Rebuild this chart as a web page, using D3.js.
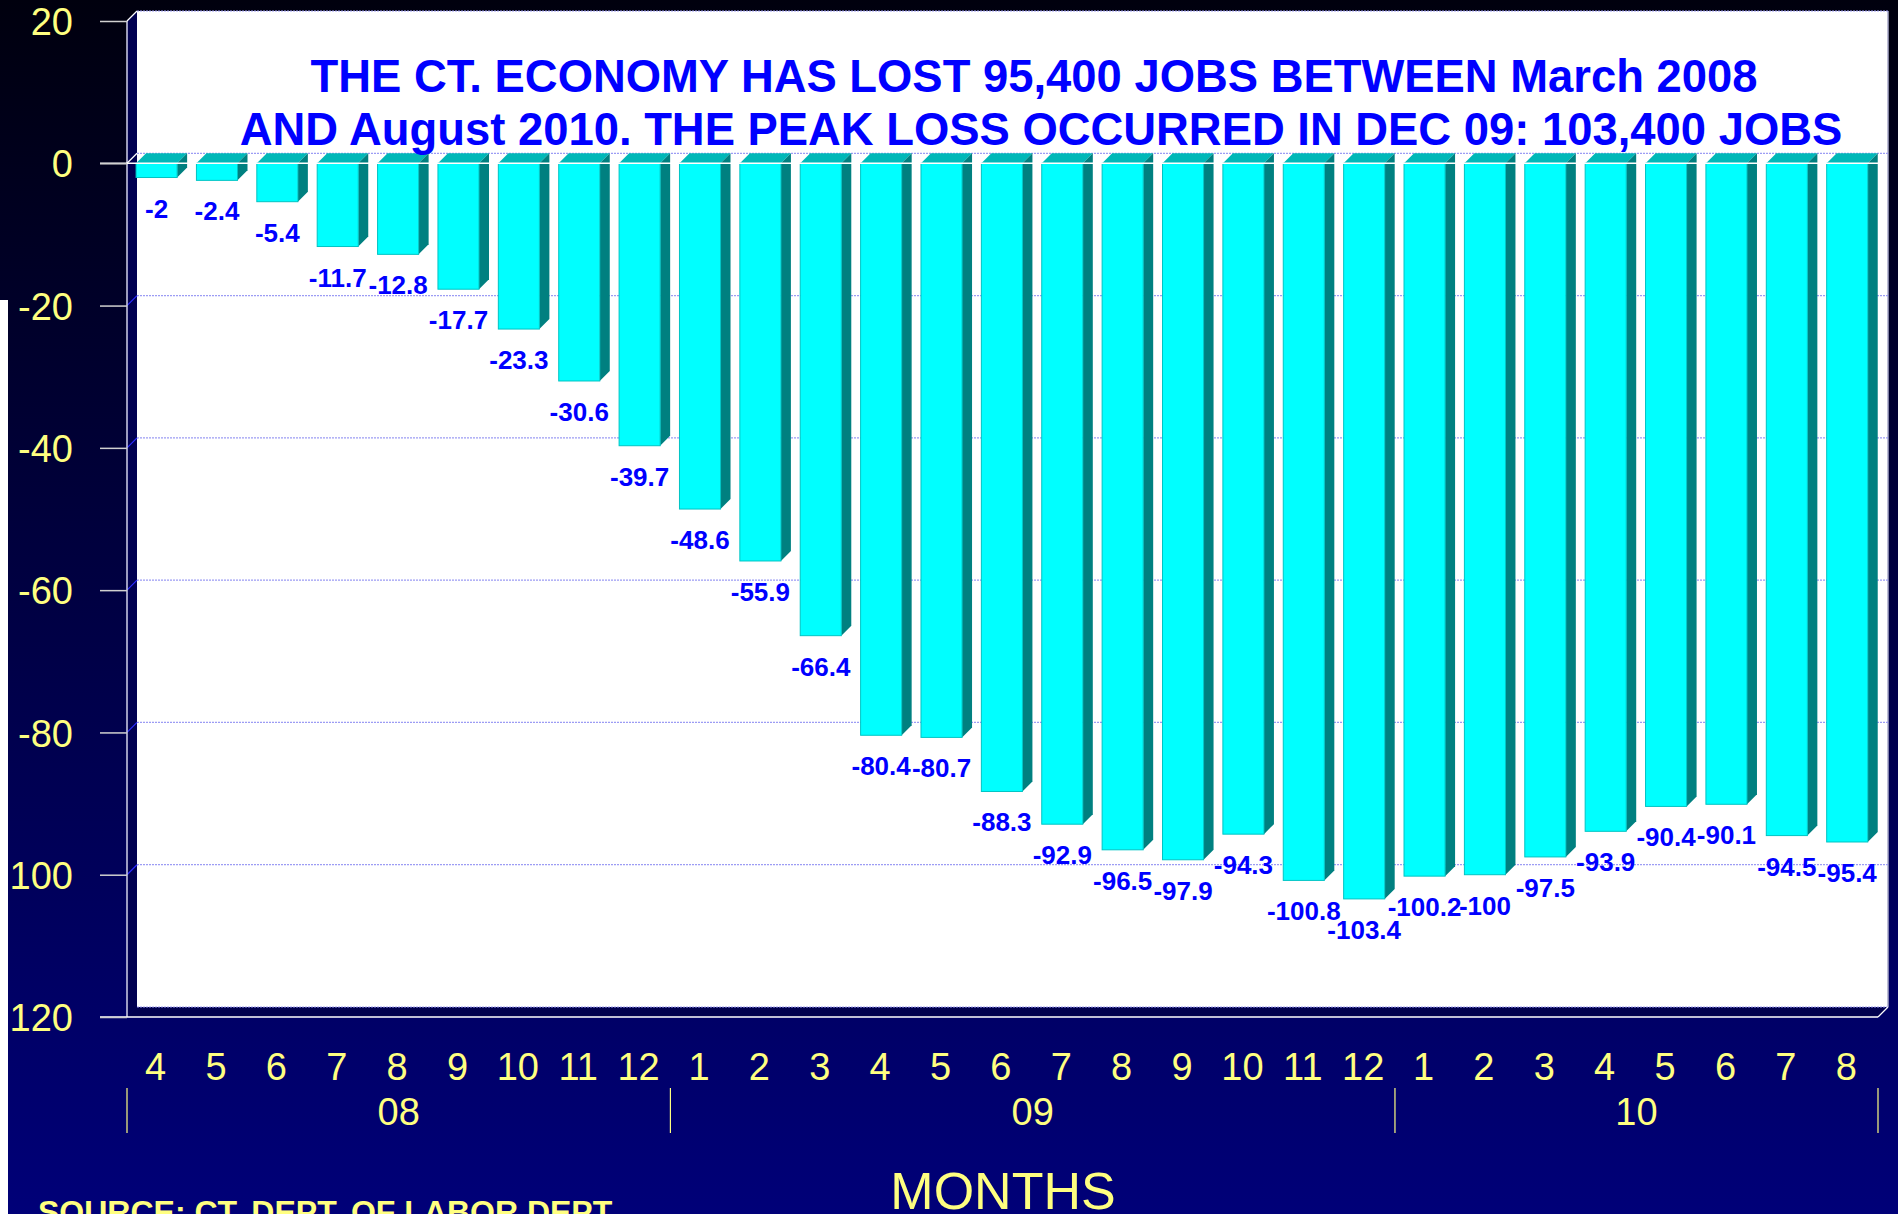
<!DOCTYPE html>
<html>
<head>
<meta charset="utf-8">
<script src="https://cdn.jsdelivr.net/npm/d3@7"></script>
<style>
html,body{margin:0;padding:0;background:#000040;}
svg{display:block;}
</style>
</head>
<body>
<svg id="chart" width="1898" height="1214"></svg>
<script>
// ---------- DATA ----------
const months = ["4","5","6","7","8","9","10","11","12",
                "1","2","3","4","5","6","7","8","9","10","11","12",
                "1","2","3","4","5","6","7","8"];
const years = ["08","09","10"];
const yearCounts = [9, 12, 8];
const jobChange = [-2,-2.4,-5.4,-11.7,-12.8,-17.7,-23.3,-30.6,-39.7,
                   -48.6,-55.9,-66.4,-80.4,-80.7,-88.3,-92.9,-96.5,-97.9,-94.3,-100.8,-103.4,
                   -100.2,-100,-97.5,-93.9,-90.4,-90.1,-94.5,-95.4];
const yTickValues = [20,0,-20,-40,-60,-80,-100,-120];
const yTickLabels = ["20","0","-20","-40","-60","-80","100","120"];
const titleLines = ["THE CT. ECONOMY HAS LOST 95,400 JOBS BETWEEN March 2008",
                    "AND August 2010. THE PEAK LOSS OCCURRED IN DEC 09: 103,400 JOBS"];
const xAxisTitle = "MONTHS";
const sourceText = "SOURCE: CT. DEPT. OF LABOR DEPT.";

// ---------- LAYOUT ----------
const W = 1898, H = 1214;
const svg = d3.select("#chart");
const FONT = "Arial, 'Liberation Sans', sans-serif";
const D = 10; // 3D depth
const x0 = 127, x1 = 1878;
const y = d3.scaleLinear().domain([-120, 20]).range([1017, 21]);
const x = d3.scaleBand().domain(d3.range(jobChange.length)).range([x0, x1]).padding(0);
const step = x.step();
const frontOff = 0.15 * step, frontW = 0.68 * step;

// background gradient
const defs = svg.append("defs");
const lg = defs.append("linearGradient").attr("id","bg").attr("x1",0).attr("y1",0).attr("x2",0).attr("y2",1);
lg.append("stop").attr("offset","0%").attr("stop-color","#00000e");
lg.append("stop").attr("offset","45%").attr("stop-color","#00003e");
lg.append("stop").attr("offset","100%").attr("stop-color","#000078");
svg.append("rect").attr("width",W).attr("height",H).attr("fill","url(#bg)");

// back wall
const wallTop = y(20) - D, wallBot = y(-120) - D;
svg.append("rect").attr("x", x0 + D).attr("y", wallTop)
   .attr("width", x1 + D - (x0 + D)).attr("height", wallBot - wallTop)
   .attr("fill", "#ffffff");
svg.append("line").attr("x1", x1 + D).attr("x2", x1 + D).attr("y1", wallTop).attr("y2", wallBot)
   .attr("stroke", "#a8a8c8").attr("stroke-width", 1.5);

// left side wall
svg.append("polygon")
   .attr("points", [[x0, y(20)], [x0 + D, wallTop], [x0 + D, wallBot], [x0, y(-120)]].join(" "))
   .attr("fill", "#000050");
// floor
svg.append("polygon")
   .attr("points", [[x0, y(-120)], [x1, y(-120)], [x1 + D, wallBot], [x0 + D, wallBot]].join(" "))
   .attr("fill", "#00004e");

// gridlines on back wall + diagonals on left wall
const grid = svg.append("g");
grid.selectAll("line.g").data(yTickValues).join("line")
   .attr("x1", x0 + D).attr("x2", x1 + D)
   .attr("y1", d => y(d) - D).attr("y2", d => y(d) - D)
   .attr("stroke", "#9c9cf4").attr("stroke-width", 1.2).attr("stroke-dasharray", "2,1");
grid.selectAll("line.dg").data(yTickValues.filter(v => v !== 0 && v !== 20 && v !== -120)).join("line")
   .attr("x1", x0).attr("y1", d => y(d)).attr("x2", x0 + D).attr("y2", d => y(d) - D)
   .attr("stroke", "#2a2aff").attr("stroke-width", 1.2);

// bars
const bars = svg.append("g");
jobChange.forEach((v, i) => {
  const bx = x(i) + frontOff, by0 = y(0), by1 = y(v);
  const g = bars.append("g");
  g.append("polygon")
    .attr("points", [[bx, by0], [bx + frontW, by0], [bx + frontW + D, by0 - D], [bx + D, by0 - D]].join(" "))
    .attr("fill", "#00b8b8");
  g.append("polygon")
    .attr("points", [[bx + frontW, by0], [bx + frontW + D, by0 - D], [bx + frontW + D, by1 - D], [bx + frontW, by1]].join(" "))
    .attr("fill", "#008080");
  g.append("rect").attr("x", bx).attr("y", by0).attr("width", frontW).attr("height", by1 - by0)
    .attr("fill", "#00ffff").attr("stroke", "#00c4c4").attr("stroke-width", 1);
});

// axis lines
svg.append("line").attr("x1", x0).attr("x2", x0).attr("y1", y(20)).attr("y2", y(-120))
   .attr("stroke", "#d0d0e8").attr("stroke-width", 1.5);
svg.append("line").attr("x1", x0).attr("y1", y(20)).attr("x2", x0 + D).attr("y2", wallTop)
   .attr("stroke", "#ffffff").attr("stroke-width", 1.2);
svg.append("line").attr("x1", x0).attr("y1", y(0)).attr("x2", x0 + D).attr("y2", y(0) - D)
   .attr("stroke", "#ffffff").attr("stroke-width", 1.2);
svg.append("line").attr("x1", 100).attr("x2", x1).attr("y1", y(0)).attr("y2", y(0))
   .attr("stroke", "#ffffff").attr("stroke-width", 1.5);
svg.append("line").attr("x1", 100).attr("x2", x1).attr("y1", y(-120)).attr("y2", y(-120))
   .attr("stroke", "#ffffff").attr("stroke-width", 1.5);
svg.append("line").attr("x1", x1).attr("y1", y(-120)).attr("x2", x1 + D).attr("y2", wallBot)
   .attr("stroke", "#ffffff").attr("stroke-width", 1.2);

// y axis ticks + labels
const yAxis = d3.axisLeft(y).tickValues(yTickValues).tickSize(27).tickPadding(28)
   .tickFormat((d, i) => yTickLabels[i]);
const ya = svg.append("g").attr("transform", `translate(${x0},0)`).call(yAxis);
ya.select(".domain").remove();
ya.selectAll(".tick line").attr("stroke", "#d0d0d0").attr("stroke-width", 1.5);
ya.selectAll(".tick text").attr("fill", "#ffff80").attr("font-family", FONT)
   .attr("font-size", 38).attr("dy", "0.36em").attr("x", -54);

// value labels
svg.append("g").selectAll("text").data(jobChange).join("text")
   .attr("transform", (d, i) => `translate(${x(i) + frontOff + frontW / 2},${y(d) + 40}) scale(1.04,1)`)
   .attr("text-anchor", "middle")
   .attr("font-family", FONT).attr("font-weight", "bold").attr("font-size", 25)
   .attr("fill", "#0000ff")
   .text(d => d);

// month labels
svg.append("g").selectAll("text").data(months).join("text")
   .attr("x", (d, i) => x(i) + frontOff + frontW / 2 - 1)
   .attr("y", 1080)
   .attr("text-anchor", "middle")
   .attr("font-family", FONT).attr("font-size", 38).attr("fill", "#ffff80")
   .text(d => d);

// year groups
let acc = 0;
const bounds = [0];
yearCounts.forEach(c => { acc += c; bounds.push(acc); });
const yrLineX = i => i < jobChange.length ? x(i) : x1;
svg.append("g").selectAll("line").data(bounds).join("line")
   .attr("x1", d => yrLineX(d)).attr("x2", d => yrLineX(d))
   .attr("y1", 1088).attr("y2", 1133)
   .attr("stroke", "#ffff80").attr("stroke-width", 1.2);
svg.append("g").selectAll("text").data(years).join("text")
   .attr("x", (d, i) => (yrLineX(bounds[i]) + yrLineX(bounds[i + 1])) / 2)
   .attr("y", 1125)
   .attr("text-anchor", "middle")
   .attr("font-family", FONT).attr("font-size", 38).attr("fill", "#ffff80")
   .text(d => d);

// axis title
svg.append("text").attr("x", 1003).attr("y", 1209).attr("text-anchor", "middle")
   .attr("font-family", FONT).attr("font-size", 52).attr("fill", "#ffff80").text(xAxisTitle);

// source
svg.append("text").attr("x", 38).attr("y", 1223)
   .attr("font-family", FONT).attr("font-weight", "bold").attr("font-size", 32).attr("fill", "#ffff80")
   .text(sourceText);

// title
svg.append("g").selectAll("text").data(titleLines).join("text")
   .attr("x", (d, i) => i === 0 ? 1034 : 1041)
   .attr("y", (d, i) => i === 0 ? 92 : 145)
   .attr("text-anchor", "middle")
   .attr("font-family", FONT).attr("font-weight", "bold").attr("font-size", 45.4)
   .attr("fill", "#0000ff")
   .text(d => d);

// left page strip (white page edge visible below the top area)
svg.append("rect").attr("x", 0).attr("y", 300).attr("width", 8).attr("height", H - 300).attr("fill", "#ffffff");
</script>
</body>
</html>
